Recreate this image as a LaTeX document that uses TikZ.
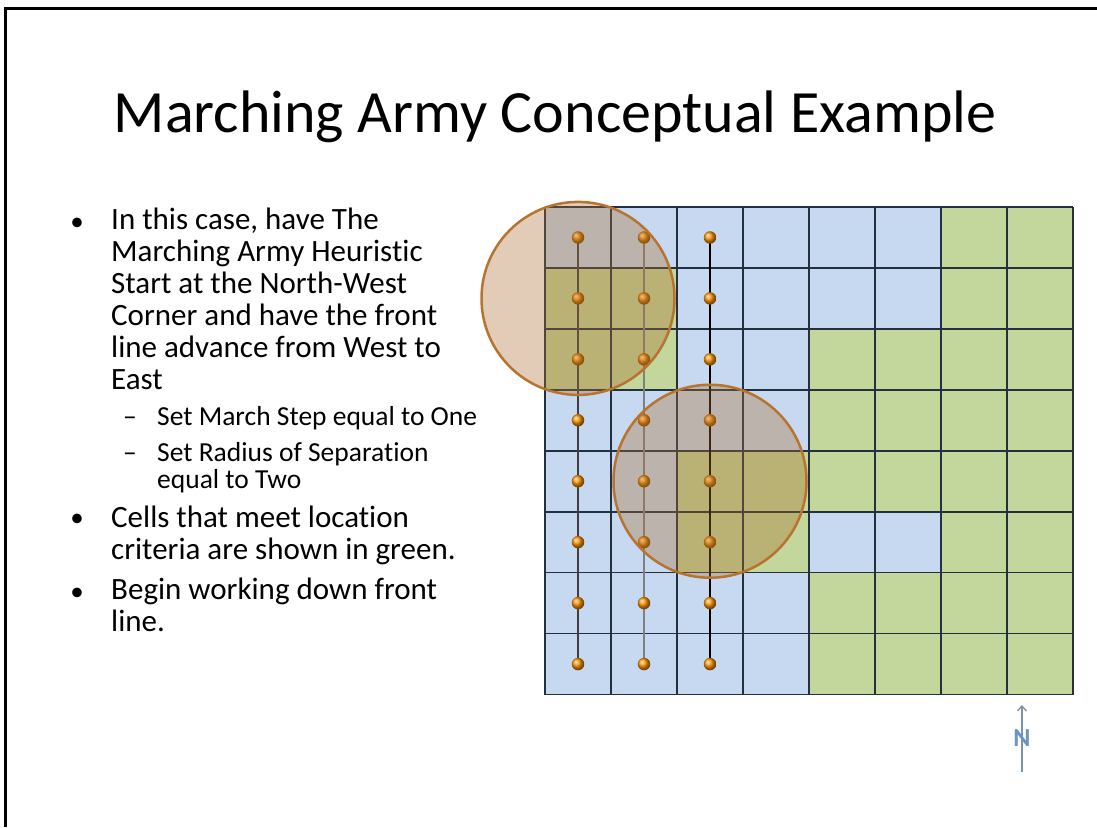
\documentclass[tikz,border=0pt]{standalone}
\usepackage{fontspec}
\setmainfont[Ligatures=NoCommon]{Carlito}
\usetikzlibrary{arrows.meta,positioning}
\definecolor{CellBlue}{HTML}{C6D9F1}
\definecolor{CellGreen}{HTML}{C3D69B}
\definecolor{GridInk}{HTML}{22303F}
\definecolor{ZoneFill}{HTML}{AC6E30}
\definecolor{ZoneRim}{HTML}{B8742F}
\definecolor{NorthBlue}{HTML}{4F81BD}
\definecolor{NorthLine}{HTML}{7C90B0}

\tikzset{
  cellblue/.style={fill=CellBlue},
  cellgreen/.style={fill=CellGreen},
  gridline/.style={GridInk, line width=1.7pt},
  soldier/.style={circle, inner sep=0pt, minimum size=12.5pt, ball color=orange!85!yellow, draw=none},
  zone/.style={circle, inner sep=0pt, minimum size=193pt, draw=ZoneRim, line width=2.5pt,
               fill=ZoneFill, fill opacity=0.35},
  bodytext/.style={anchor=base west, align=left, inner sep=0pt, font=\fontsize{31}{31.9}\selectfont},
  subtext/.style={anchor=base west, align=left, inner sep=0pt, font=\fontsize{27.5}{26.7}\selectfont},
  bulletmark/.style={anchor=base, inner sep=0pt, font=\fontsize{27}{31.9}\selectfont},
  dashmark/.style={anchor=base west, inner sep=0pt, font=\fontsize{27.5}{26.7}\selectfont},
  title/.style={anchor=base, inner sep=0pt, font=\fontsize{60}{66}\selectfont}
}

\begin{document}
\begin{tikzpicture}[x=1pt, y=-1pt]
    \useasboundingbox (0,0) rectangle (1097,827);
    \def\rowh{60.94}

    % slide frame
    \draw[line width=3pt] (5,827) -- (5,8) -- (1097,8);

    % Title
    \node[title] (heading) at (555,132) {Marching Army Conceptual Example};

    % Bullets (multi-line nodes sit on their last baseline)
    \node[bulletmark] (bul1) at (77,230) {\textbullet};
    \node[bodytext] (item1) at (111,389.3) {In this case, have The\\Marching Army Heuristic\\Start at the North-West\\Corner and have the front\\line advance from West to\\East};
    \node[dashmark] (dash1) at (123,425) {–};
    \node[subtext] (sub1) at (157,425) {Set March Step equal to One};
    \node[dashmark] (dash2) at (123,461.7) {–};
    \node[subtext] (sub2) at (157,488.3) {Set Radius of Separation\\equal to Two};
    \node[bulletmark] (bul2) at (77,526.7) {\textbullet};
    \node[bodytext] (item2) at (111,559.3) {Cells that meet location\\criteria are shown in green.};
    \node[bulletmark] (bul3) at (77,600) {\textbullet};
    \node[bodytext] (item3) at (111,631.7) {Begin working down front\\line.};

    % Cells: blue everywhere, green where criteria are met
    \fill[cellblue] (545,207) rectangle (1073,{207+8*\rowh});
    \foreach \c/\r in {7/1,8/1, 1/2,2/2,7/2,8/2, 1/3,2/3,5/3,6/3,7/3,8/3,
                       5/4,6/4,7/4,8/4, 3/5,4/5,5/5,6/5,7/5,8/5, 3/6,4/6,7/6,8/6,
                       5/7,6/7,7/7,8/7, 5/8,6/8,7/8,8/8}
        \fill[cellgreen] ({545+(\c-1)*66},{207+(\r-1)*\rowh}) rectangle ++(66,\rowh);

    % Grid
    \foreach \c in {0,...,8}
        \draw[gridline] ({545+\c*66},207) -- ({545+\c*66},{207+8*\rowh});
    \foreach \r in {0,...,8}
        \draw[gridline] (545,{207+\r*\rowh}) -- (1073,{207+\r*\rowh});

    % Front line positions
    \foreach \c in {1,2,3}
        \foreach \r in {1,...,8}
            \coordinate (p\c\r) at ({545+(\c-0.5)*66},{207+(\r-0.5)*\rowh});

    % March columns
    \draw[line width=2.2pt, black!75] (p11) -- (p18);
    \draw[line width=2.5pt, black!50] (p21) -- (p28);
    \draw[line width=2.6pt, black] (p31) -- (p38);

    % Soldiers
    \foreach \c in {1,2,3}
        \foreach \r in {1,...,8}
            \node[soldier] (d\c\r) at (p\c\r) {};

    % Radius of separation
    \node[zone] (reach1) at (p12) {};
    \node[zone] (reach2) at (p35) {};

    % North arrow
    \coordinate (ntail) at (1022,772);
    \coordinate (nhead) at (1022,705);
    \draw[NorthLine, line width=1.3pt, -{Straight Barb[length=5pt,width=9pt]}] (ntail) -- (nhead);
    \node[NorthBlue!85, font=\fontsize{26}{26}\bfseries\selectfont, inner sep=0pt] (nmark) at (1022,738) {N};

\end{tikzpicture}
\end{document}
